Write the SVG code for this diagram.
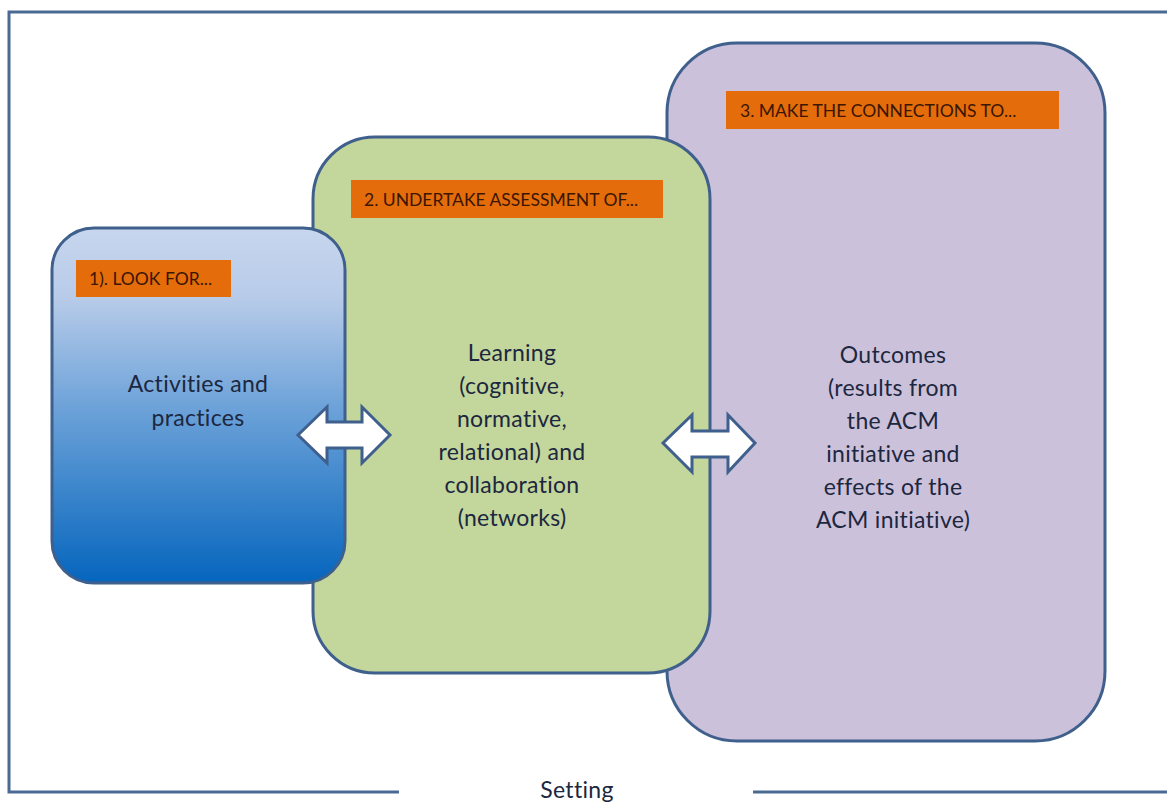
<svg xmlns="http://www.w3.org/2000/svg" width="1167" height="804" viewBox="0 0 1167 804">
<style>
.frame{fill:none;stroke:#4b6a93;stroke-width:3}
.box{stroke:#3f5f8c;stroke-width:3}
.tag{fill:#e46c0a}
.tagtxt{font-family:Lato,"Liberation Sans",sans-serif;font-size:17.5px;fill:#3b1602}
.body{font-family:Lato,"Liberation Sans",sans-serif;font-size:23px;letter-spacing:0.3px;fill:#1c2740;text-anchor:middle}
.arr{fill:#ffffff;stroke:#3f5f8c;stroke-width:3;stroke-linejoin:miter}
</style>
<defs>
<linearGradient id="blueg" x1="0" y1="0" x2="0" y2="1">
<stop offset="0" stop-color="#c8d6ee"/>
<stop offset="0.2" stop-color="#b7cbe9"/>
<stop offset="0.5" stop-color="#6ea3d9"/>
<stop offset="1" stop-color="#0565bd"/>
</linearGradient>
</defs>
<rect width="1167" height="804" fill="#ffffff"/>
<g id="setting">
<path class="frame" d="M399 792 H9 V12 H1170"/>
<path class="frame" d="M753 792 H1170"/>
<text x="577" y="798" class="body">Setting</text>
</g>
<g id="node3">
<rect class="box" x="667" y="43" width="438" height="698" rx="70" fill="#ccc1da"/>
<rect class="tag" x="726" y="91" width="333" height="38"/>
<text class="tagtxt" x="740" y="117">3. MAKE  THE CONNECTIONS TO...</text>
<text class="body" x="893" y="363">Outcomes</text>
<text class="body" x="893" y="396">(results from</text>
<text class="body" x="893" y="429">the ACM</text>
<text class="body" x="893" y="462">initiative and</text>
<text class="body" x="893" y="495">effects of the</text>
<text class="body" x="893" y="528">ACM initiative)</text>
</g>
<g id="node2">
<rect class="box" x="313" y="137" width="397" height="536" rx="62" fill="#c3d69b"/>
<rect class="tag" x="351" y="180" width="312" height="38"/>
<text class="tagtxt" x="364" y="206">2. UNDERTAKE ASSESSMENT  OF...</text>
<text class="body" x="512" y="361">Learning</text>
<text class="body" x="512" y="394">(cognitive,</text>
<text class="body" x="512" y="427">normative,</text>
<text class="body" x="512" y="460">relational) and</text>
<text class="body" x="512" y="493">collaboration</text>
<text class="body" x="512" y="526">(networks)</text>
</g>
<g id="node1">
<rect class="box" x="52" y="228" width="293" height="355" rx="42" fill="url(#blueg)"/>
<rect class="tag" x="76" y="260" width="155" height="37"/>
<text class="tagtxt" x="89" y="285">1). LOOK FOR...</text>
<text class="body" x="198" y="392">Activities  and</text>
<text class="body" x="198" y="426">practices</text>
</g>
<g id="connectors">
<path class="arr" d="M298 435 L327 407 V422 H362 V407 L390 435 L362 463 V448 H327 V463 Z"/>
<path class="arr" d="M663 443 L692 415 V431 H728 V415 L755 443 L728 472 V457 H692 V472 Z"/>
</g>
</svg>
